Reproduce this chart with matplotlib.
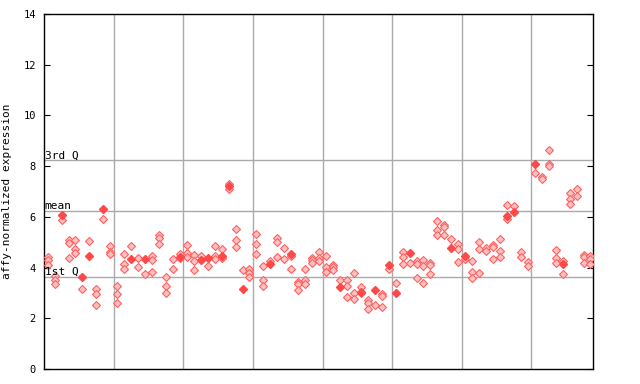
import matplotlib
matplotlib.use("Agg")
import matplotlib.pyplot as plt

# replicate values per sample (hatched diamonds)
reps = [
    [4.40, 4.29, 4.09], [3.66, 3.50, 3.37], [5.89], [5.08, 4.97, 4.36], [5.10, 4.75, 4.59],
    [3.14], [5.04], [3.14, 2.94, 2.52], [5.93], [4.86, 4.62, 4.53],
    [3.29, 2.94, 2.62], [4.55, 4.13, 3.96], [4.84], [4.36, 4.04], [3.73],
    [4.47, 4.28, 3.81], [5.30, 5.18, 4.95], [3.62, 3.27, 2.98], [4.32, 3.96], [4.55, 4.38],
    [4.91, 4.58, 4.40], [4.51, 4.26, 3.92], [4.47], [4.08], [4.87, 4.45, 4.32],
    [4.74, 4.36], [7.31, 7.11], [5.54, 5.10, 4.82], [3.92], [3.96, 3.79, 3.64],
    [5.34, 4.95, 4.55], [4.08, 3.50, 3.27], [4.25], [5.18, 5.01, 4.40], [4.79, 4.34],
    [4.45, 3.96], [3.44, 3.37, 3.10], [3.96, 3.53, 3.37], [4.38, 4.29, 4.19], [4.62, 4.38, 4.26],
    [4.45, 4.03, 3.83], [4.09, 4.03, 3.92], [3.53], [3.53, 3.29, 2.86], [3.77, 2.98, 2.77],
    [3.24, 2.98], [2.74, 2.59, 2.35], [2.52], [2.94, 2.87, 2.43], [3.96],
    [3.40], [4.63, 4.40, 4.16], [4.20], [4.25, 4.16, 3.57], [4.29, 4.08, 3.40],
    [4.20, 4.12, 3.73], [5.85, 5.47, 5.30], [5.66, 5.59, 5.30], [5.14], [4.95, 4.75, 4.23],
    [4.32], [4.26, 3.83, 3.57], [4.99, 4.75, 3.79], [4.79, 4.66], [4.88, 4.82, 4.32],
    [5.14, 4.66, 4.40], [6.48, 5.91], [6.44], [4.62, 4.42], [4.23, 4.06],
    [7.74], [7.57, 7.51], [8.65, 8.10, 8.01], [4.71, 4.36, 4.19], [4.25, 3.74],
    [6.96, 6.72, 6.52], [7.10, 6.84], [4.50, 4.40, 4.20], [4.45, 4.32, 4.16],
]

# highlighted values (solid diamonds): (sample index, value)
hl_idx = [2, 5, 6, 8, 12, 14, 19, 22, 23, 25, 26, 28, 32, 35, 42, 45, 47, 49, 50, 52, 58, 60, 66, 67, 70, 74]
hl_val = [6.08, 3.64, 4.46, 6.30, 4.34, 4.34, 4.42, 4.29, 4.38, 4.45, 7.22, 3.16, 4.13, 4.53, 3.22, 3.04, 3.11, 4.09, 2.99, 4.58, 4.76, 4.45, 6.02, 6.18, 8.08, 4.16]

q1, mean, q3 = 3.62, 6.22, 8.23

fig = plt.figure(figsize=(6.4, 3.84), dpi=100)
ax = fig.add_axes([0.069, 0.039, 0.858, 0.9245])

rx, ry = [], []
for i, vals in enumerate(reps):
    for v in vals:
        rx.append(i)
        ry.append(v)
ax.plot(rx, ry, linestyle="none", marker="D", markersize=3.6,
        markerfacecolor="#ffc0c0", markeredgecolor="#ff6060", markeredgewidth=0.8, zorder=3)
ax.plot(hl_idx, hl_val, linestyle="none", marker="D", markersize=4.2,
        markerfacecolor="#ff4848", markeredgecolor="#ff4848", zorder=4)

for gx in [9.5, 19.5, 29.5, 39.5, 49.5, 59.5, 69.5]:
    ax.axvline(gx, color="#aaaaaa", linewidth=1, zorder=1)
for hy in [q1, mean, q3]:
    ax.axhline(hy, color="#aaaaaa", linewidth=1, zorder=1)

mono = "DejaVu Sans Mono"
ax.text(-0.45, q3, "3rd Q", fontsize=8, family=mono, va="bottom", ha="left")
ax.text(-0.45, mean, "mean", fontsize=8, family=mono, va="bottom", ha="left")
ax.text(-0.45, q1, "1st Q", fontsize=8, family=mono, va="bottom", ha="left")

ax.set_xlim(-0.5, 78.4)
ax.set_ylim(0, 14)
ax.set_yticks(range(0, 15, 2))
ax.set_xticks([])
ax.tick_params(axis="y", direction="in", right=True, length=4, labelsize=7.5, pad=6)
for lab in ax.get_yticklabels():
    lab.set_family(mono)
ax.set_ylabel("affy-normalized expression", fontsize=8, family=mono, labelpad=8)
for s in ax.spines.values():
    s.set_linewidth(1)

fig.savefig("out.png", dpi=100)
